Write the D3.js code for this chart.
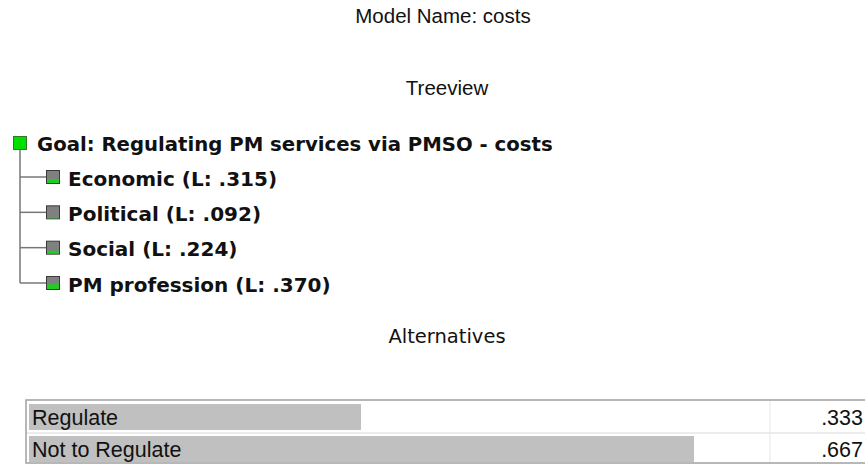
<!DOCTYPE html>
<html>
<head>
<meta charset="utf-8">
<script src="https://cdn.jsdelivr.net/npm/d3@7"></script>
<style>
  body { margin: 0; background: #fff; }
  svg { display: block; }
</style>
</head>
<body>
<div id="chart"></div>
<script>
// Model data
const modelName = "costs";
const goalLabel = "Goal: Regulating PM services via PMSO - costs";
const criteria = ["Economic", "Political", "Social", "PM profession"];
const localWeights = [0.315, 0.092, 0.224, 0.370];
const alternatives = ["Regulate", "Not to Regulate"];
const altScores = [0.333, 0.667];

const width = 865, height = 464;

const svg = d3.select("#chart")
    .append("svg")
    .attr("width", width)
    .attr("height", height);

const fmt = v => d3.format(".3f")(v).replace(/^0/, "");

// Headings
svg.append("text")
    .attr("x", 443).attr("y", 23)
    .attr("text-anchor", "middle")
    .style("font", "20.5px 'Liberation Sans', Arial, sans-serif")
    .style("fill", "#111")
    .text("Model Name: " + modelName);

svg.append("text")
    .attr("x", 447).attr("y", 95)
    .attr("text-anchor", "middle")
    .style("font", "20.5px 'Liberation Sans', Arial, sans-serif")
    .style("fill", "#111")
    .text("Treeview");

svg.append("text")
    .attr("x", 447).attr("y", 343)
    .attr("text-anchor", "middle")
    .style("font", "19.5px 'DejaVu Sans', Verdana, sans-serif")
    .style("fill", "#111")
    .text("Alternatives");

// Treeview
const tree = svg.append("g");
const y = d3.scalePoint()
    .domain(criteria)
    .range([177, 283]);

const trunkX = 20;
tree.append("line")
    .attr("x1", trunkX).attr("x2", trunkX)
    .attr("y1", 149).attr("y2", y(criteria[criteria.length - 1]))
    .attr("stroke", "#777").attr("stroke-width", 1.5);

// goal icon
tree.append("rect")
    .attr("x", 13.5).attr("y", 136.5)
    .attr("width", 13).attr("height", 13)
    .attr("fill", "#00e000")
    .attr("stroke", "#2a7a2a");

tree.append("text")
    .attr("x", 37).attr("y", 151)
    .style("font", "bold 19.7px 'DejaVu Sans', Verdana, sans-serif")
    .style("fill", "#111")
    .text(goalLabel);

const nodes = tree.selectAll(".node")
    .data(criteria.map((c, i) => ({ name: c, w: localWeights[i] })))
    .enter()
    .append("g")
    .attr("class", "node")
    .attr("transform", d => `translate(0,${y(d.name)})`);

nodes.append("line")
    .attr("x1", trunkX).attr("x2", 47)
    .attr("y1", 0).attr("y2", 0)
    .attr("stroke", "#777").attr("stroke-width", 1.5);

const iconH = 13;
nodes.append("rect")
    .attr("x", 46.5).attr("y", -6.5)
    .attr("width", 13).attr("height", iconH)
    .attr("fill", "#808080")
    .attr("stroke", "#3a3a3a");

nodes.append("rect")
    .attr("x", 47).attr("y", d => 6 - d.w * iconH)
    .attr("width", 12).attr("height", d => d.w * iconH)
    .attr("fill", "#22cc22");

nodes.append("text")
    .attr("x", 68).attr("y", 8.5)
    .style("font", "bold 20px 'DejaVu Sans', Verdana, sans-serif")
    .style("fill", "#111")
    .text(d => `${d.name} (L: ${fmt(d.w)})`);

// Alternatives table
const tableX = 26, tableTop = 400, rowH = 32, valueCol = 770;
const x = d3.scaleLinear().domain([0, 1]).range([29, 1026]);

const table = svg.append("g");
const rows = table.selectAll(".row")
    .data(alternatives.map((a, i) => ({ name: a, v: altScores[i] })))
    .enter()
    .append("g")
    .attr("class", "row")
    .attr("transform", (d, i) => `translate(0,${tableTop + i * rowH})`);

rows.append("rect")
    .attr("x", x(0)).attr("y", 4)
    .attr("width", d => Math.min(x(d.v), valueCol) - x(0))
    .attr("height", 26)
    .attr("fill", "#c0c0c0");

rows.append("text")
    .attr("x", 32).attr("y", 25)
    .style("font", "21.5px 'Liberation Sans', Arial, sans-serif")
    .style("fill", "#111")
    .text(d => d.name);

rows.append("text")
    .attr("x", 863).attr("y", 25)
    .attr("text-anchor", "end")
    .style("font", "21.5px 'Liberation Sans', Arial, sans-serif")
    .style("fill", "#111")
    .text(d => fmt(d.v));

// grid lines
table.append("line")
    .attr("x1", tableX).attr("x2", width)
    .attr("y1", tableTop + rowH + 1).attr("y2", tableTop + rowH + 1)
    .attr("stroke", "#ececec").attr("stroke-width", 2);

table.append("line")
    .attr("x1", valueCol).attr("x2", valueCol)
    .attr("y1", tableTop).attr("y2", tableTop + 2 * rowH)
    .attr("stroke", "#e6e6e6").attr("stroke-width", 1);

table.append("rect")
    .attr("x", tableX).attr("y", tableTop)
    .attr("width", width - tableX + 2).attr("height", 2 * rowH - 1)
    .attr("fill", "none")
    .attr("stroke", "#a0a0a0").attr("stroke-width", 1.5);
</script>
</body>
</html>
